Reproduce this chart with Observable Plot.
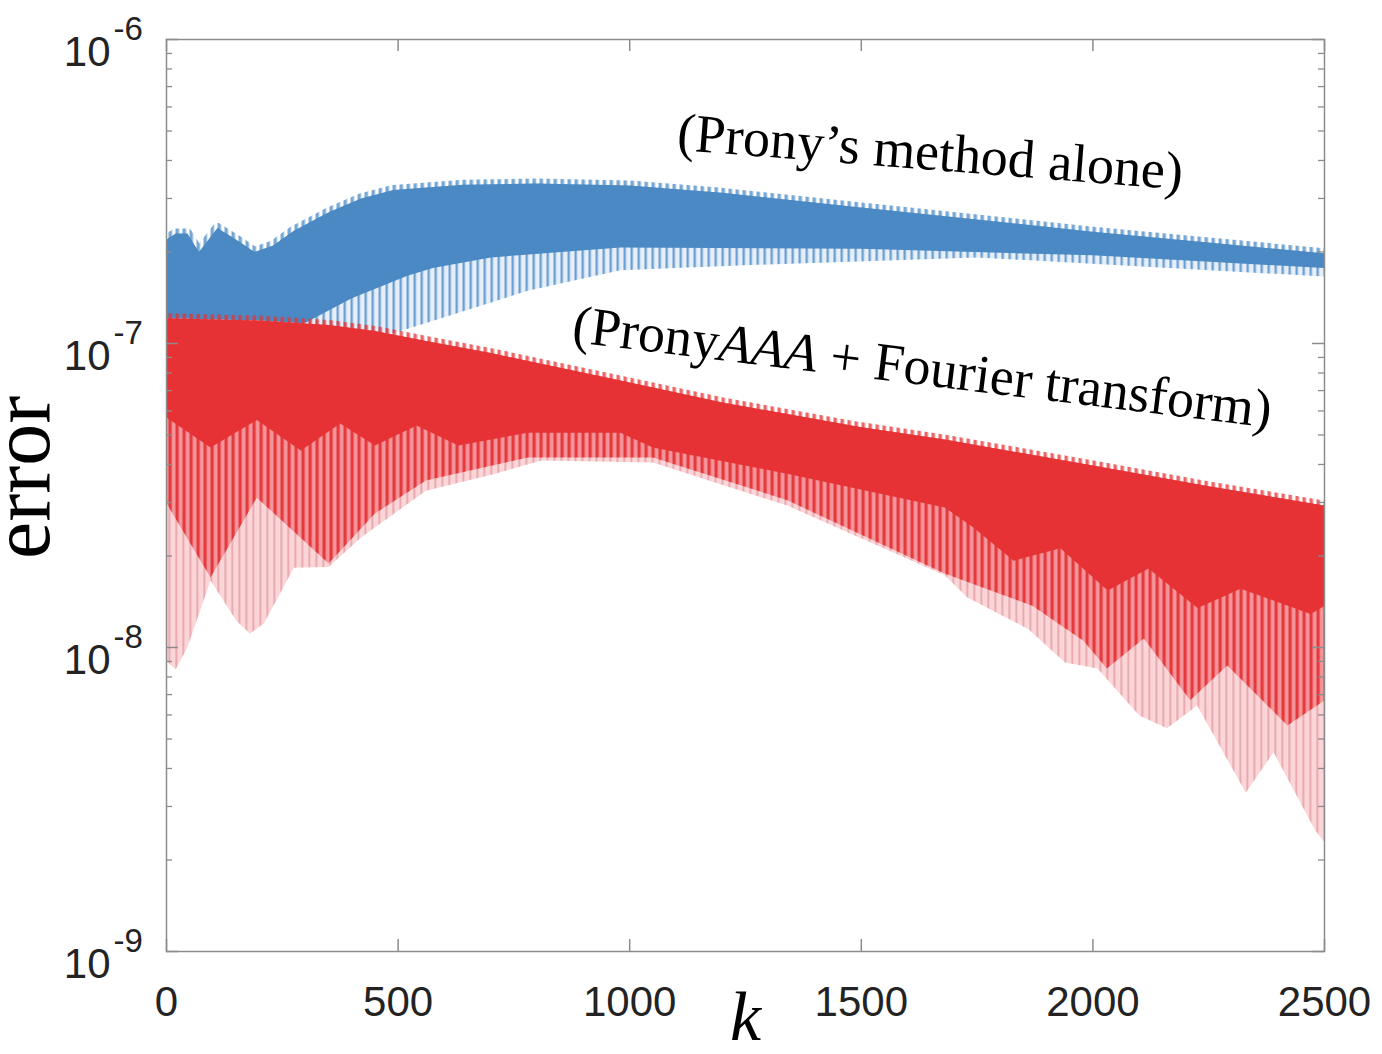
<!DOCTYPE html>
<html>
<head>
<meta charset="utf-8">
<script src="https://cdn.jsdelivr.net/npm/d3@7"></script>
<script src="https://cdn.jsdelivr.net/npm/@observablehq/plot@0.6"></script>
<style>
  html, body { margin: 0; padding: 0; background: #fff; }
  #chart svg { display: block; }
</style>
</head>
<body>
<div id="chart"></div>
<script>
// Error envelopes of the two methods versus k (log-scale error).
// Each series is described by its upper envelope and the lower edges of
// the dense, medium and faint parts of the oscillating error curve.

// Prony's method alone (blue)
const blueTopK   = [0, 20, 45, 70, 110, 150, 190, 230, 275, 350, 420, 490, 640, 800, 1000, 1200, 1500, 1750, 2000, 2250, 2500];
const blueTopErr = [2.2e-7, 2.3e-7, 2.3e-7, 2.0e-7, 2.4e-7, 2.2e-7, 2.0e-7, 2.1e-7, 2.35e-7, 2.7e-7, 3.0e-7, 3.2e-7, 3.33e-7, 3.36e-7, 3.31e-7, 3.13e-7, 2.80e-7, 2.56e-7, 2.33e-7, 2.15e-7, 1.98e-7];
const blueDenseK   = [0, 300, 400, 520, 575, 700, 980, 1500, 2000, 2500];
const blueDenseErr = [1.1e-7, 1.17e-7, 1.41e-7, 1.67e-7, 1.77e-7, 1.92e-7, 2.07e-7, 2.05e-7, 1.95e-7, 1.77e-7];
const blueFaintK   = [0, 300, 350, 490, 600, 780, 980, 1300, 1750, 2500];
const blueFaintErr = [0.98e-7, 1.06e-7, 1.06e-7, 1.08e-7, 1.22e-7, 1.49e-7, 1.74e-7, 1.82e-7, 1.92e-7, 1.66e-7];

// PronyAAA + Fourier transform (red)
const redTopK   = [0, 200, 350, 450, 560, 700, 980, 1200, 1500, 1680, 2000, 2250, 2500];
const redTopErr = [1.21e-7, 1.19e-7, 1.15e-7, 1.10e-7, 1.02e-7, 9.3e-8, 7.55e-8, 6.4e-8, 5.30e-8, 4.83e-8, 3.97e-8, 3.39e-8, 2.93e-8];
const redSolidK   = [0, 95, 195, 290, 375, 450, 540, 630, 780, 980, 1050, 1340, 1680, 1742, 1829, 1930, 2032, 2120, 2226, 2319, 2470, 2500];
const redSolidErr = [5.71e-8, 4.55e-8, 5.6e-8, 4.45e-8, 5.46e-8, 4.62e-8, 5.37e-8, 4.62e-8, 5.09e-8, 5.09e-8, 4.55e-8, 3.73e-8, 2.89e-8, 2.48e-8, 1.93e-8, 2.12e-8, 1.54e-8, 1.82e-8, 1.35e-8, 1.56e-8, 1.29e-8, 1.37e-8];
const redMidK   = [0, 95, 195, 350, 450, 560, 780, 1050, 1340, 1680, 1750, 1870, 1980, 2030, 2110, 2210, 2290, 2420, 2500];
const redMidErr = [2.98e-8, 1.70e-8, 3.11e-8, 1.89e-8, 2.76e-8, 3.54e-8, 4.22e-8, 4.22e-8, 3.05e-8, 1.75e-8, 1.60e-8, 1.37e-8, 1.05e-8, 8.53e-9, 1.07e-8, 6.70e-9, 8.73e-9, 5.54e-9, 6.7e-9];
const redFaintK   = [0, 20, 45, 95, 150, 180, 210, 275, 350, 420, 560, 710, 810, 1050, 1340, 1680, 1729, 1860, 1940, 2010, 2100, 2160, 2225, 2330, 2390, 2480, 2500];
const redFaintErr = [9.0e-9, 8.5e-9, 1.0e-8, 1.66e-8, 1.23e-8, 1.11e-8, 1.2e-8, 1.83e-8, 1.84e-8, 2.30e-8, 3.28e-8, 3.73e-8, 4.12e-8, 4.06e-8, 2.93e-8, 1.73e-8, 1.46e-8, 1.15e-8, 8.93e-9, 8.53e-9, 5.97e-9, 5.42e-9, 6.44e-9, 3.33e-9, 4.52e-9, 2.50e-9, 2.29e-9];

// Axes
const xTicks = [0, 500, 1000, 1500, 2000, 2500];
const yTicks = [1e-9, 1e-8, 1e-7, 1e-6];
const yTickExponents = ["-9", "-8", "-7", "-6"];
const yMinorTicks = [
  2e-9, 3e-9, 4e-9, 5e-9, 6e-9, 7e-9, 8e-9, 9e-9,
  2e-8, 3e-8, 4e-8, 5e-8, 6e-8, 7e-8, 8e-8, 9e-8,
  2e-7, 3e-7, 4e-7, 5e-7, 6e-7, 7e-7, 8e-7, 9e-7
];

// Series labels
const seriesLabels = [
  {k: 1649, err: 4.25e-7, label: "(Prony’s method alone)", rotate: 4.5},
  {k: 1632, err: 8.34e-8, label: "(PronyAAA + Fourier transform)", rotate: 7}
];

const W = 1382, H = 1054;
const mL = 166, mR = 58, mT = 39, mB = 103;
const plotW = W - mL - mR, plotH = H - mT - mB;
const axisGray = "#8c8c8c";
const serif = "'Liberation Serif', 'DejaVu Serif', serif";
const sans = "'Liberation Sans', Arial, Helvetica, sans-serif";

// Closed outline: upper envelope left→right, then lower edge right→left.
function band(topK, topE, botK, botE) {
  const rows = topK.map((k, i) => ({k, err: topE[i]}));
  for (let i = botK.length - 1; i >= 0; --i) rows.push({k: botK[i], err: botE[i]});
  return rows;
}
const rows = (K, E) => K.map((k, i) => ({k, err: E[i]}));

const fillBand = (data, fill) => Plot.line(data, {x: "k", y: "err", fill, stroke: "none", clip: true});

const svg = Plot.plot({
  width: W,
  height: H,
  marginLeft: mL, marginRight: mR, marginTop: mT, marginBottom: mB,
  style: {background: "white", overflow: "visible"},
  x: {domain: [0, 2500], axis: null},
  y: {type: "log", domain: [1e-9, 1e-6], axis: null},
  marks: [
    // blue series
    fillBand(band(blueTopK, blueTopErr, blueFaintK, blueFaintErr), "url(#blueFaint)"),
    fillBand(band(blueTopK, blueTopErr, blueDenseK, blueDenseErr), "#4a89c4"),
    Plot.line(rows(blueTopK, blueTopErr), {x: "k", y: "err", stroke: "url(#blueFuzz)", strokeWidth: 10, strokeOpacity: 0.75, clip: true}),

    // red series
    fillBand(band(redTopK, redTopErr, redFaintK, redFaintErr), "url(#redFaint)"),
    fillBand(band(redTopK, redTopErr, redMidK, redMidErr), "url(#redMid)"),
    fillBand(band(redTopK, redTopErr, redSolidK, redSolidErr), "#e63234"),
    Plot.line(rows(redTopK, redTopErr), {x: "k", y: "err", stroke: "url(#redFuzz)", strokeWidth: 10, strokeOpacity: 0.75, clip: true}),

    // box and ticks (pointing inward)
    Plot.frame({stroke: axisGray, strokeWidth: 1.5}),
    Plot.tickX(xTicks, {x: d => d, insetTop: plotH - 12, stroke: axisGray, strokeWidth: 1.5}),
    Plot.tickX(xTicks, {x: d => d, insetBottom: plotH - 12, stroke: axisGray, strokeWidth: 1.5}),
    Plot.tickY(yTicks, {y: d => d, insetRight: plotW - 12, stroke: axisGray, strokeWidth: 1.5}),
    Plot.tickY(yTicks, {y: d => d, insetLeft: plotW - 12, stroke: axisGray, strokeWidth: 1.5}),
    Plot.tickY(yMinorTicks, {y: d => d, insetRight: plotW - 6, stroke: axisGray, strokeWidth: 1.3}),
    Plot.tickY(yMinorTicks, {y: d => d, insetLeft: plotW - 6, stroke: axisGray, strokeWidth: 1.3}),

    // tick labels
    Plot.text(xTicks, {x: d => d, frameAnchor: "bottom", text: d => String(d), dy: 64, lineAnchor: "bottom",
      fontSize: 42, fontFamily: sans, fill: "#232323"}),
    Plot.text(yTicks, {y: d => d, frameAnchor: "left", text: () => "10", textAnchor: "end", dx: -56, dy: 26,
      lineAnchor: "bottom", fontSize: 42, fontFamily: sans, fill: "#232323"}),
    Plot.text(yTicks, {y: d => d, frameAnchor: "left", text: (d, i) => yTickExponents[i], textAnchor: "start", dx: -53, dy: 0,
      lineAnchor: "bottom", fontSize: 33, fontFamily: sans, fill: "#232323"}),

    // axis titles
    Plot.text(["error"], {frameAnchor: "left", text: d => d, rotate: -90, textAnchor: "middle", dx: -144, dy: -18,
      lineAnchor: "middle", fontSize: 84, fontFamily: serif, fill: "#000"}),
    Plot.text(["k"], {x: () => 1250, frameAnchor: "bottom", text: d => d, dy: 88, lineAnchor: "bottom",
      fontSize: 70, fontFamily: serif, fontStyle: "italic", fill: "#000"}),

    // series labels
    Plot.text(seriesLabels, {x: "k", y: "err", text: "label", rotate: "rotate", fontSize: 54,
      fontFamily: serif, fill: "#000", lineAnchor: "middle"})
  ]
});

// Stripe patterns that give the dense vertical oscillation texture.
const defs = d3.select(svg).insert("defs", ":first-child");
function stripes(id, bg, fg, lineWidth, period = 7) {
  const p = defs.append("pattern")
    .attr("id", id)
    .attr("patternUnits", "userSpaceOnUse")
    .attr("width", period)
    .attr("height", 20);
  if (bg) p.append("rect").attr("width", period).attr("height", 20).attr("fill", bg);
  p.append("rect").attr("x", 0).attr("width", lineWidth).attr("height", 20).attr("fill", fg);
}
stripes("blueFaint", "#e6eff8", "#6b9fd0", 2.4);
stripes("blueFuzz", null, "#4a89c4", 3.5);
stripes("redMid", "#f3959a", "#e43a3d", 3.2);
stripes("redFaint", "#fbd5d8", "#e2a0a6", 1.6);
stripes("redFuzz", null, "#e63234", 3.5);

// Italic "AAA" inside the second series label.
d3.select(svg).selectAll("text").each(function () {
  if (this.textContent === "(PronyAAA + Fourier transform)") {
    const t = d3.select(this);
    t.text(null);
    t.append("tspan").text("(Prony");
    t.append("tspan").attr("font-style", "italic").text("AAA");
    t.append("tspan").text(" + Fourier transform)");
  }
});

document.getElementById("chart").appendChild(svg);
</script>
</body>
</html>
